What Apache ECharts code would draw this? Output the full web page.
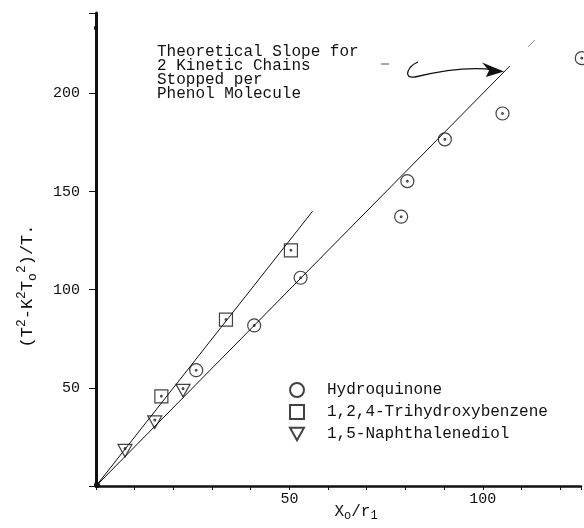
<!DOCTYPE html>
<html>
<head>
<meta charset="utf-8">
<script src="https://cdn.jsdelivr.net/npm/echarts@6/dist/echarts.min.js"></script>
<style>
html,body{margin:0;padding:0;background:#fff;}
#chart{width:584px;height:528px;}
</style>
</head>
<body>
<div id="chart"></div>
<script>
// ---- data ----
var seriesNames = ['Hydroquinone', '1,2,4-Trihydroxybenzene', '1,5-Naphthalenediol'];
var hydroquinone = [[25.9, 59.0], [40.9, 81.8], [52.9, 106.1], [78.9, 137.2], [80.5, 155.3], [90.2, 176.6], [105.1, 189.8], [125.6, 218.0]];
var trihydroxybenzene = [[16.9, 45.7], [33.6, 84.8], [50.4, 120.1]];
var naphthalenediol = [[7.5, 18.0], [15.2, 32.5], [22.5, 48.6]];
var fitLineUpper = [[0, 0], [56, 140]];
var fitLineLower = [[0, 0], [107, 214]];
var xTickLabels = [50, 100];
var yTickLabels = [50, 100, 150, 200];
var annotationLines = ['Theoretical Slope for', '2 Kinetic Chains', 'Stopped per', 'Phenol Molecule'];

var MONO = '"Liberation Mono", "DejaVu Sans Mono", monospace';
var INK = '#111';

var circleDot = 'path://M10,0A10,10,0,1,1,-10,0A10,10,0,1,1,10,0ZM1.3,0A1.3,1.3,0,1,1,-1.3,0A1.3,1.3,0,1,1,1.3,0Z';
var squareDot = 'path://M-10,-10L10,-10L10,10L-10,10ZM1.3,0A1.3,1.3,0,1,1,-1.3,0A1.3,1.3,0,1,1,1.3,0Z';
var triDot = 'path://M-10,-8L10,-8L0,10ZM1.3,-2A1.3,1.3,0,1,1,-1.3,-2A1.3,1.3,0,1,1,1.3,-2Z';
var circleIcon = 'path://M10,0A10,10,0,1,1,-10,0A10,10,0,1,1,10,0Z';
var squareIcon = 'path://M-10,-10L10,-10L10,10L-10,10Z';
var triIcon = 'path://M-10,-8L10,-8L0,10Z';

var symStyle = {color: 'rgba(255,255,255,0)', borderColor: INK, borderWidth: 1.2};

var chart = echarts.init(document.getElementById('chart'), null, {renderer: 'canvas'});
chart.setOption({
  backgroundColor: '#fff',
  animation: false,
  grid: {left: 96, right: 0, top: 13, bottom: 42, containLabel: false},
  xAxis: {
    type: 'value', min: 0, max: 125.4, interval: 10,
    axisLine: {show: true, lineStyle: {color: INK, width: 2.5}},
    axisTick: {show: true, length: 4, lineStyle: {color: INK, width: 1}},
    axisLabel: {
      margin: 6, color: INK, fontFamily: MONO, fontSize: 15,
      formatter: function (v) { return xTickLabels.indexOf(v) >= 0 ? String(v) : ''; }
    },
    splitLine: {show: false}
  },
  yAxis: {
    type: 'value', min: 0, max: 241, interval: 50,
    axisLine: {show: true, lineStyle: {color: INK, width: 3}},
    axisTick: {show: true, length: 7, lineStyle: {color: INK, width: 1}},
    axisLabel: {
      margin: 16, color: INK, fontFamily: MONO, fontSize: 15,
      formatter: function (v) { return yTickLabels.indexOf(v) >= 0 ? String(v) : ''; }
    },
    splitLine: {show: false}
  },
  legend: {
    orient: 'vertical', left: 284, top: 377,
    itemWidth: 14, itemHeight: 14, itemGap: 6,
    textStyle: {fontFamily: MONO, fontSize: 16, color: INK, padding: [0, 0, 0, 18]},
    data: [
      {name: seriesNames[0], icon: circleIcon},
      {name: seriesNames[1], icon: squareIcon},
      {name: seriesNames[2], icon: triIcon}
    ]
  },
  series: [
    {type: 'line', data: fitLineUpper, symbol: 'none', silent: true,
     lineStyle: {color: INK, width: 1}, z: 1},
    {type: 'line', data: fitLineLower, symbol: 'none', silent: true,
     lineStyle: {color: INK, width: 1}, z: 1},
    {name: seriesNames[0], type: 'scatter', data: hydroquinone, symbol: circleDot,
     symbolSize: 13, symbolKeepAspect: true, clip: false, itemStyle: symStyle, z: 3},
    {name: seriesNames[1], type: 'scatter', data: trihydroxybenzene, symbol: squareDot,
     symbolSize: 13, symbolKeepAspect: true, itemStyle: symStyle, z: 3},
    {name: seriesNames[2], type: 'scatter', data: naphthalenediol, symbol: triDot,
     symbolSize: 14, symbolKeepAspect: true, itemStyle: symStyle, z: 3}
  ],
  graphic: [
    {
      type: 'text', x: 157, y: 45,
      style: {
        text: annotationLines.join('\n'),
        font: '16px ' + MONO, fill: INK, lineHeight: 14
      }
    },
    {
      type: 'text', x: 27, y: 286, rotation: Math.PI / 2,
      style: {
        text: '{b|(T}{p|2}{b|-K}{p|2}{b|T}{s|o}{p|2}{b|)/T.}',
        align: 'center', verticalAlign: 'middle',
        rich: {
          b: {fontFamily: MONO, fontSize: 17, lineHeight: 24, verticalAlign: 'middle', fill: INK, color: INK},
          p: {fontFamily: MONO, fontSize: 13, lineHeight: 24, verticalAlign: 'top', fill: INK, color: INK},
          s: {fontFamily: MONO, fontSize: 13, lineHeight: 24, verticalAlign: 'bottom', fill: INK, color: INK}
        }
      }
    },
    {
      type: 'text', x: 356, y: 512,
      style: {
        text: '{b|X}{s|o}{b|/r}{s|1}',
        align: 'center', verticalAlign: 'middle',
        rich: {
          b: {fontFamily: MONO, fontSize: 16, lineHeight: 20, verticalAlign: 'middle', fill: INK, color: INK},
          s: {fontFamily: MONO, fontSize: 12, lineHeight: 20, verticalAlign: 'bottom', fill: INK, color: INK}
        }
      }
    },
    {
      type: 'bezierCurve',
      shape: {x1: 418, y1: 62, cpx1: 408, cpy1: 66, cpx2: 402, cpy2: 79, x2: 415, y2: 77},
      style: {stroke: INK, lineWidth: 1.3, fill: null}
    },
    {
      type: 'bezierCurve',
      shape: {x1: 415, y1: 77, cpx1: 440, cpy1: 71, cpx2: 468, cpy2: 66, x2: 495, y2: 70},
      style: {stroke: INK, lineWidth: 1.3, fill: null}
    },
    {
      type: 'polygon',
      shape: {points: [[504, 71.5], [482, 62.5], [489, 70.5], [486, 77]]},
      style: {fill: INK}
    },
    {
      type: 'line', shape: {x1: 381, y1: 64, x2: 389, y2: 64},
      style: {stroke: '#555', lineWidth: 1}
    },
    {
      type: 'line', shape: {x1: 528, y1: 47, x2: 535, y2: 40},
      style: {stroke: '#999', lineWidth: 1}
    },
    {
      type: 'circle', shape: {cx: 97, cy: 485, r: 3}, style: {fill: INK}
    },
    {
      type: 'circle', shape: {cx: 96, cy: 28, r: 2.2}, style: {fill: INK}
    }
  ]
});
</script>
</body>
</html>
